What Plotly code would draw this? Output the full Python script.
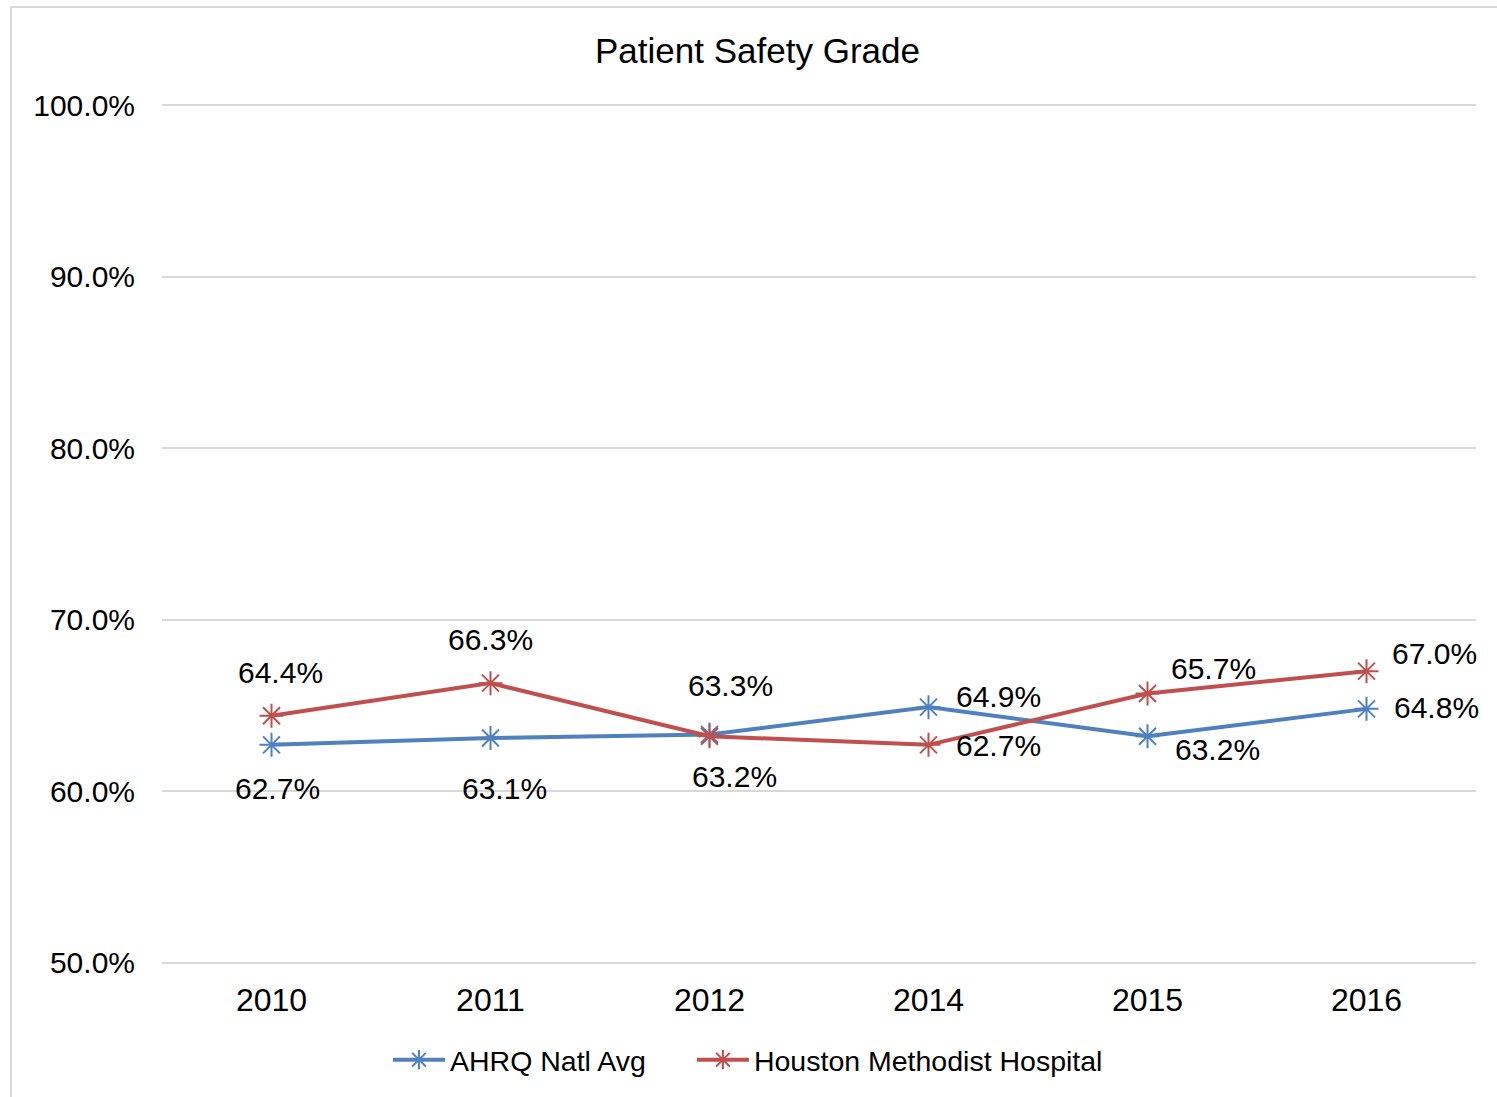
import plotly.graph_objects as go

years = ["2010", "2011", "2012", "2014", "2015", "2016"]
ahrq = [62.7, 63.1, 63.3, 64.9, 63.2, 64.8]
houston = [64.4, 66.3, 63.2, 62.7, 65.7, 67.0]
y_ticks = [50, 60, 70, 80, 90, 100]
y_tick_text = ["50.0%", "60.0%", "70.0%", "80.0%", "90.0%", "100.0%"]

# label offsets (pixels) for data labels
ahrq_off = [(6, -44), (14, -50), (21, 49), (70, 11), (70, -13), (70, 1)]
hou_off = [(9, 43), (0, 44), (25, -40), (70, -1), (66, 25), (68, 18)]

BLUE = "#4F81BD"
RED = "#C0504D"
FONT = "Liberation Sans"

fig = go.Figure()
fig.add_trace(go.Scatter(
    x=years, y=ahrq, name="AHRQ Natl Avg", mode="lines+markers", legend="legend",
    showlegend=True,
    line=dict(color=BLUE, width=4),
    marker=dict(symbol="asterisk-open", size=20, line=dict(color=BLUE, width=2), color=BLUE),
))
fig.add_trace(go.Scatter(
    x=years, y=houston, name="Houston Methodist Hospital", mode="lines+markers", legend="legend2",
    showlegend=True,
    line=dict(color=RED, width=4),
    marker=dict(symbol="asterisk-open", size=20, line=dict(color=RED, width=2), color=RED),
))

ann = []
for vals, offs in ((ahrq, ahrq_off), (houston, hou_off)):
    for i, (yv, (dx, dy)) in enumerate(zip(vals, offs)):
        ann.append(dict(x=i, y=yv, xref="x", yref="y", text=f"{yv:.1f}%",
                        showarrow=False, xshift=dx, yshift=dy,
                        font=dict(family=FONT, size=30, color="#000000")))

leg_common = dict(orientation="h", y=-0.109, yanchor="middle", xanchor="left",
                  font=dict(size=28.5), itemwidth=52, bgcolor="rgba(0,0,0,0)")

fig.update_layout(
    width=1497, height=1097,
    showlegend=True,
    margin=dict(l=162, r=21, t=102, b=131, autoexpand=False),
    paper_bgcolor="white", plot_bgcolor="white",
    font=dict(family=FONT, size=30, color="#000000"),
    title=dict(text="Patient Safety Grade", x=0.506, xanchor="center", y=0.954, yanchor="middle",
               font=dict(family=FONT, size=35, color="#000000")),
    xaxis=dict(type="category", showgrid=False, showline=False, ticks="", automargin=False,
               range=[-0.5, 5.5], ticklabelstandoff=12, tickfont=dict(size=32)),
    yaxis=dict(range=[49.8, 100.2], tickvals=y_ticks, ticktext=y_tick_text, automargin=False,
               showgrid=True, gridcolor="#D9D9D9", gridwidth=2, zeroline=False,
               showline=False, ticks="", ticklabelstandoff=26, tickfont=dict(size=30)),
    legend=dict(x=0.172, **leg_common),
    legend2=dict(x=0.4033, **leg_common),
    annotations=ann,
    shapes=[dict(type="rect", xref="paper", yref="paper", x0=-0.1149, x1=1.05,
                 y0=-0.3, y1=1.11, line=dict(color="#D9D9D9", width=2), layer="below")],
)

fig.write_html("out.html", config={"displayModeBar": False},
               post_script="document.body.style.margin='0';")
